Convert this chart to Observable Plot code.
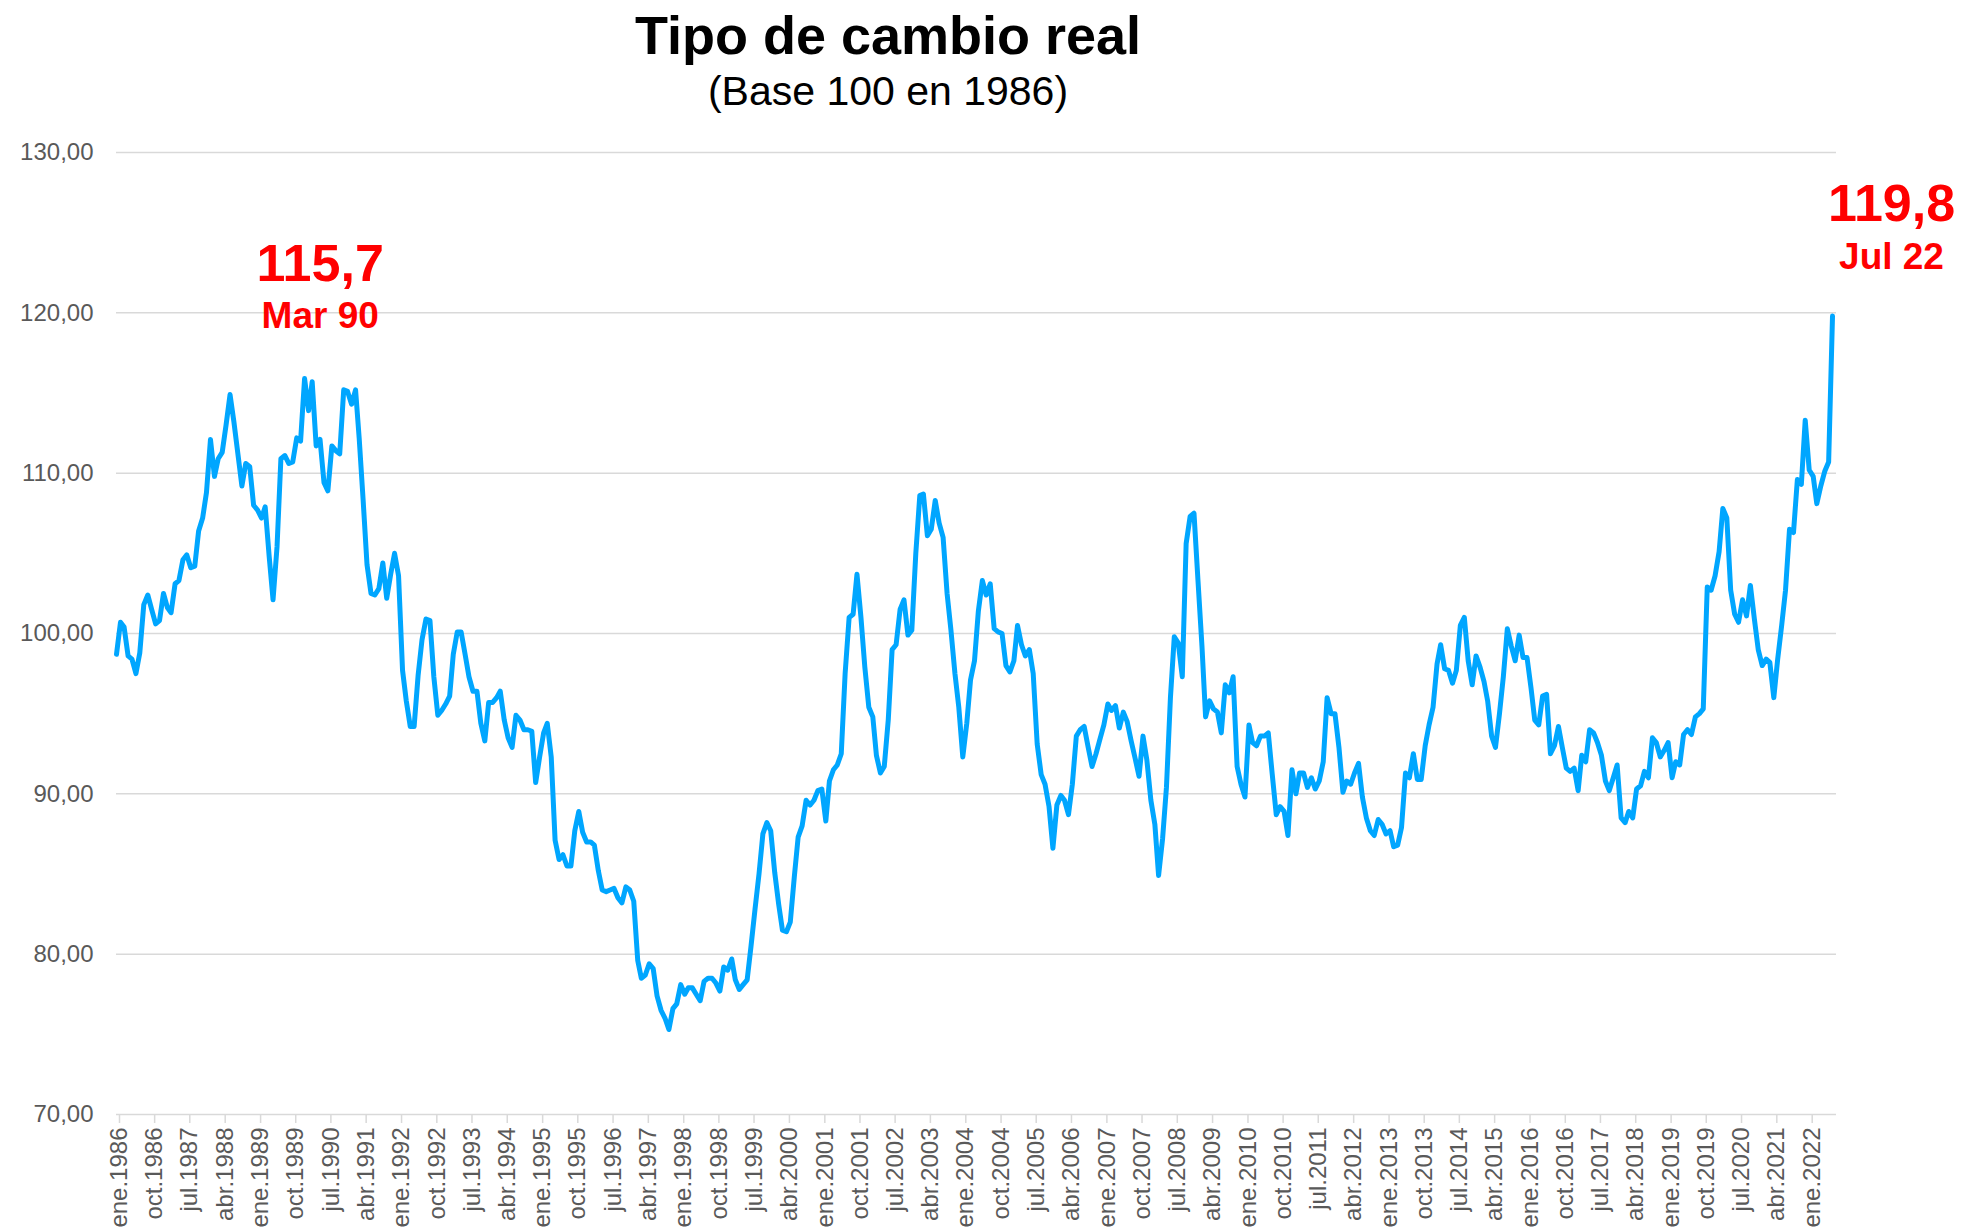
<!DOCTYPE html>
<html>
<head>
<meta charset="utf-8">
<script src="https://cdn.jsdelivr.net/npm/d3@7"></script>
<script src="https://cdn.jsdelivr.net/npm/@observablehq/plot@0.6"></script>
<style>
html,body{margin:0;padding:0;background:#fff;}
body{width:1970px;height:1230px;overflow:hidden;font-family:"Liberation Sans",Arial,Helvetica,sans-serif;}
#header{position:relative;height:120px;width:1970px;}
#title{position:absolute;left:0;width:1776px;top:8px;text-align:center;font-size:54px;font-weight:bold;line-height:54px;color:#000;}
#subtitle{position:absolute;left:0;width:1776px;top:71px;text-align:center;font-size:41px;line-height:41px;color:#000;}
#chart svg{display:block;}
</style>
</head>
<body>
<div id="header">
  <div id="title">Tipo de cambio real</div>
  <div id="subtitle">(Base 100 en 1986)</div>
</div>
<div id="chart"></div>
<script>
// Monthly series, starting January 1986
const startYear = 1986;
const values = [
  98.7, 100.7, 100.4, 98.6, 98.4, 97.5, 98.8, 101.8, 102.4, 101.5, 100.6, 100.8,   // 1986
  102.5, 101.6, 101.3, 103.1, 103.3, 104.6, 104.9, 104.1, 104.2, 106.4, 107.2, 108.8, // 1987
  112.1, 109.8, 110.9, 111.3, 113.0, 114.9, 113.2, 111.2, 109.2, 110.6, 110.4, 108.0, // 1988
  107.7, 107.2, 107.9, 104.8, 102.1, 105.4, 110.9, 111.1, 110.6, 110.7, 112.2, 112.0, // 1989
  115.9, 113.9, 115.7, 111.7, 112.1, 109.4, 108.9, 111.7, 111.4, 111.2, 115.2, 115.1, // 1990
  114.3, 115.2, 112.2, 108.3, 104.3, 102.5, 102.4, 102.8, 104.4, 102.2, 103.7, 105.0, // 1991
  103.6, 97.7, 95.8, 94.2, 94.2, 97.4, 99.6, 100.9, 100.8, 97.3, 94.9, 95.2,        // 1992
  95.6, 96.1, 98.7, 100.1, 100.1, 98.7, 97.3, 96.4, 96.4, 94.4, 93.3, 95.7,         // 1993
  95.7, 96.0, 96.4, 94.6, 93.5, 92.9, 94.9, 94.6, 94.0, 94.0, 93.9, 90.7,           // 1994
  92.3, 93.8, 94.4, 92.3, 87.1, 85.9, 86.2, 85.5, 85.5, 87.7, 88.9, 87.6,           // 1995
  87.0, 87.0, 86.8, 85.2, 84.0, 83.9, 84.0, 84.1, 83.5, 83.2, 84.2, 84.0,           // 1996
  83.3, 79.6, 78.5, 78.7, 79.4, 79.1, 77.4, 76.5, 76.0, 75.3, 76.6, 76.9,           // 1997
  78.1, 77.5, 77.9, 77.9, 77.5, 77.1, 78.3, 78.5, 78.5, 78.2, 77.7, 79.2,           // 1998
  79.0, 79.7, 78.4, 77.8, 78.1, 78.4, 80.5, 82.8, 85.0, 87.5, 88.2, 87.7,           // 1999
  85.1, 83.1, 81.5, 81.4, 82.0, 84.8, 87.3, 88.0, 89.6, 89.3, 89.6, 90.2,           // 2000
  90.3, 88.3, 90.8, 91.5, 91.8, 92.5, 97.5, 101.0, 101.2, 103.7, 101.0, 97.9,       // 2001
  95.4, 94.8, 92.4, 91.3, 91.7, 94.6, 99.0, 99.3, 101.5, 102.1, 99.9, 100.2,        // 2002
  105.0, 108.6, 108.7, 106.1, 106.5, 108.3, 106.9, 106.0, 102.5, 100.2, 97.5, 95.4, // 2003
  92.3, 94.4, 97.1, 98.3, 101.4, 103.3, 102.4, 103.1, 100.3, 100.1, 100.0, 98.0,    // 2004
  97.6, 98.3, 100.5, 99.3, 98.6, 99.0, 97.5, 93.1, 91.2, 90.6, 89.2, 86.6,          // 2005
  89.3, 89.9, 89.6, 88.7, 90.6, 93.6, 94.0, 94.2, 92.9, 91.7, 92.5, 93.4,           // 2006
  94.3, 95.6, 95.2, 95.5, 94.1, 95.1, 94.5, 93.3, 92.2, 91.1, 93.6, 92.1,           // 2007
  89.6, 88.1, 84.9, 87.2, 90.4, 96.0, 99.8, 99.4, 97.3, 105.6, 107.3, 107.5,        // 2008
  103.3, 99.2, 94.8, 95.8, 95.3, 95.1, 93.8, 96.8, 96.3, 97.3, 91.7, 90.6,          // 2009
  89.8, 94.3, 93.2, 93.0, 93.6, 93.6, 93.8, 91.2, 88.7, 89.2, 88.9, 87.4,           // 2010
  91.5, 90.0, 91.3, 91.3, 90.4, 91.0, 90.3, 90.8, 92.0, 96.0, 95.0, 95.0,           // 2011
  92.9, 90.1, 90.8, 90.6, 91.3, 91.9, 89.8, 88.5, 87.7, 87.4, 88.4, 88.1,           // 2012
  87.5, 87.7, 86.7, 86.8, 87.9, 91.3, 91.0, 92.5, 90.9, 90.9, 93.0, 94.3,           // 2013
  95.4, 98.1, 99.3, 97.8, 97.7, 96.9, 97.7, 100.5, 101.0, 98.3, 96.8, 98.6,         // 2014
  97.9, 97.0, 95.8, 93.6, 92.9, 95.0, 97.3, 100.3, 99.2, 98.3, 99.9, 98.5,          // 2015
  98.5, 96.6, 94.6, 94.3, 96.1, 96.2, 92.5, 93.0, 94.2, 92.9, 91.6, 91.4,           // 2016
  91.6, 90.2, 92.4, 92.0, 94.0, 93.8, 93.2, 92.4, 90.8, 90.2, 91.0, 91.8,           // 2017
  88.5, 88.2, 88.9, 88.5, 90.3, 90.5, 91.4, 91.0, 93.5, 93.2, 92.3, 92.7,           // 2018
  93.2, 91.0, 92.0, 91.8, 93.7, 94.0, 93.7, 94.8, 95.0, 95.3, 102.9, 102.7,         // 2019
  103.6, 105.1, 107.8, 107.2, 102.7, 101.2, 100.7, 102.1, 101.1, 103.0, 100.9, 99.0, // 2020
  98.0, 98.4, 98.2, 96.0, 98.4, 100.5, 102.7, 106.5, 106.3, 109.6, 109.3, 113.3,    // 2021
  110.2, 109.8, 108.1, 109.2, 110.1, 110.7, 119.8                                   // 2022
];
const monthAbbr = ["ene","feb","mar","abr","may","jun","jul","ago","sep","oct","nov","dic"];
const yTicks = [70, 80, 90, 100, 110, 120, 130];
const tickEveryMonths = 9;
const annotMonths = [[1990, 2], [2022, 6]];
const annotValues = [115.7, 119.8];
const annotLabels = ["115,7", "119,8"];
const annotSubLabels = ["Mar 90", "Jul 22"];

const data = values.map((v, i) => ({date: new Date(Date.UTC(startYear, i, 1)), value: v}));
const xTicks = d3.range(0, values.length, tickEveryMonths).map(i => new Date(Date.UTC(startYear, i, 1)));
const annots = annotMonths.map(([y, m], i) => ({date: new Date(Date.UTC(y, m, 1)), value: annotValues[i], label: annotLabels[i], sub: annotSubLabels[i]}));

const font = '"Liberation Sans", Arial, Helvetica, sans-serif';
const red = "#ff0000";
const grid = "#d9d9d9";
const labelColor = "#595959";
const offsets = [{dx: 8, dy1: -101, dy2: -54}, {dx: 59, dy1: -95, dy2: -47}];

const annotMarks = annots.flatMap((a, i) => [
  Plot.text([a], {x: "date", y: "value", text: "label", dx: offsets[i].dx, dy: offsets[i].dy1, lineAnchor: "bottom", textAnchor: "middle", fontSize: 52, fontWeight: "bold", fill: red}),
  Plot.text([a], {x: "date", y: "value", text: "sub", dx: offsets[i].dx, dy: offsets[i].dy2, lineAnchor: "bottom", textAnchor: "middle", fontSize: 37, fontWeight: "bold", fill: red})
]);

const chart = Plot.plot({
  width: 1970,
  height: 1110,
  marginTop: 32,
  marginBottom: 116,
  marginLeft: 116,
  marginRight: 134,
  style: {fontFamily: font, background: "white", overflow: "visible"},
  x: {type: "utc", domain: [new Date(Date.UTC(startYear, 0, 1)), new Date(Date.UTC(startYear, values.length, 1))]},
  y: {domain: [70, 130]},
  marks: [
    Plot.ruleY(yTicks, {stroke: grid, strokeWidth: 1.5}),
    Plot.axisY(yTicks, {tickFormat: v => v.toFixed(2).replace(".", ","), tickSize: 0, tickPadding: 23, fontSize: 24, fill: labelColor, color: labelColor, label: null}),
    Plot.axisX(xTicks, {tickFormat: d => monthAbbr[d.getUTCMonth()] + "." + d.getUTCFullYear(), tickRotate: -90, tickSize: 9, tickPadding: 4, fontSize: 24, stroke: grid, fill: labelColor, strokeWidth: 1.5, dx: 3, label: null}),
    Plot.line(data, {x: "date", y: "value", stroke: "#00a6ff", strokeWidth: 5, strokeLinejoin: "round", strokeLinecap: "round"}),
    ...annotMarks
  ]
});
document.getElementById("chart").appendChild(chart);
</script>
</body>
</html>
